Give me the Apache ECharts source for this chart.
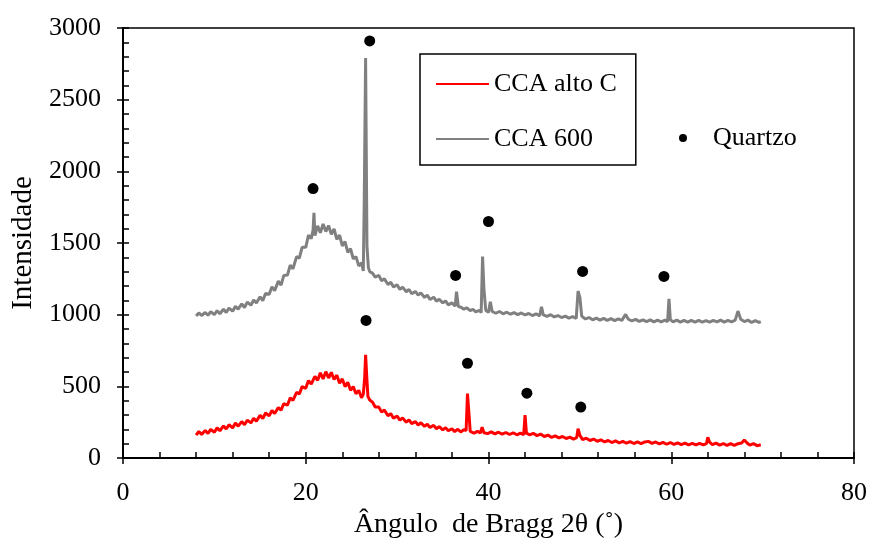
<!DOCTYPE html>
<html>
<head>
<meta charset="utf-8">
<script src="https://cdn.jsdelivr.net/npm/echarts@6/dist/echarts.min.js"></script>
<style>html,body{margin:0;padding:0;background:#fff}#c{width:870px;height:547px}</style>
</head>
<body>
<div id="c"></div>
<script>
var xTicks = [0, 20, 40, 60, 80];
var yTicks = [0, 500, 1000, 1500, 2000, 2500, 3000];
var seriesNames = ['CCA alto C', 'CCA 600', 'Quartzo'];

var cca600 = [[8.0,990],[8.3,1012],[8.6,994],[9.0,1015],[9.3,996],[9.6,1020],[10.0,1000],[10.3,1028],[10.6,1006],[11.0,1038],[11.3,1015],[11.6,1046],[12.0,1024],[12.3,1058],[12.6,1038],[13.0,1075],[13.3,1050],[13.6,1088],[14.0,1066],[14.3,1102],[14.6,1082],[15.0,1125],[15.3,1098],[15.6,1148],[16.0,1142],[16.3,1194],[16.6,1168],[17.0,1234],[17.3,1206],[17.6,1274],[18.0,1276],[18.3,1345],[18.6,1320],[19.0,1405],[19.3,1395],[19.6,1470],[20.0,1470],[20.3,1555],[20.6,1530],[20.8,1590],[20.9,1710],[21.0,1552],[21.3,1620],[21.6,1572],[21.9,1632],[22.2,1580],[22.5,1622],[22.8,1560],[23.1,1598],[23.4,1525],[23.7,1555],[24.0,1480],[24.3,1510],[24.6,1435],[24.9,1460],[25.2,1390],[25.5,1405],[25.8,1340],[26.1,1362],[26.3,1305],[26.4,1790],[26.55,2790],[26.7,1480],[26.85,1330],[27.0,1300],[27.3,1290],[27.6,1262],[28.0,1274],[28.3,1236],[28.6,1250],[29.0,1210],[29.3,1226],[29.6,1194],[30.0,1208],[30.3,1176],[30.6,1192],[31.0,1160],[31.3,1176],[31.6,1146],[32.0,1162],[32.3,1136],[32.6,1152],[33.0,1120],[33.3,1136],[33.6,1106],[34.0,1122],[34.3,1094],[34.6,1108],[35.0,1082],[35.3,1096],[35.6,1068],[36.0,1082],[36.35,1060],[36.5,1160],[36.7,1056],[37.0,1052],[37.3,1038],[37.6,1048],[38.0,1028],[38.3,1038],[38.6,1020],[39.0,1030],[39.2,1014],[39.35,1405],[39.5,1180],[39.7,1030],[40.0,1016],[40.2,1090],[40.4,1022],[40.8,1010],[41.2,1022],[41.6,1006],[42.0,1017],[42.4,1003],[42.8,1014],[43.2,1000],[43.6,1012],[44.0,998],[44.4,1008],[44.8,994],[45.2,1006],[45.6,992],[45.8,1055],[46.0,998],[46.4,988],[46.8,1000],[47.2,984],[47.6,994],[48.0,980],[48.4,990],[48.8,976],[49.2,986],[49.6,974],[49.8,1165],[50.0,1120],[50.2,990],[50.6,970],[51.0,980],[51.4,964],[51.8,976],[52.2,962],[52.6,974],[53.0,960],[53.4,972],[53.8,958],[54.2,970],[54.6,960],[55.0,1002],[55.3,968],[55.7,956],[56.1,967],[56.5,953],[56.9,964],[57.3,952],[57.7,964],[58.1,950],[58.5,962],[58.9,950],[59.3,962],[59.6,952],[59.75,1110],[59.9,965],[60.2,950],[60.6,962],[61.0,948],[61.4,960],[61.8,948],[62.2,960],[62.6,948],[63.0,960],[63.4,948],[63.8,959],[64.2,948],[64.6,960],[65.0,950],[65.4,962],[65.8,948],[66.2,960],[66.6,950],[67.0,962],[67.3,1025],[67.6,968],[68.0,952],[68.4,962],[68.8,946],[69.2,958],[69.6,946],[69.8,952]];

var ccaAltoC = [[8.0,160],[8.3,185],[8.6,165],[9.0,192],[9.3,172],[9.6,200],[10.0,180],[10.3,210],[10.6,190],[11.0,224],[11.3,202],[11.6,232],[12.0,210],[12.3,244],[12.6,222],[13.0,254],[13.3,232],[13.6,264],[14.0,245],[14.3,278],[14.6,256],[15.0,298],[15.3,275],[15.6,314],[16.0,294],[16.3,332],[16.6,310],[17.0,352],[17.3,334],[17.6,380],[18.0,368],[18.3,420],[18.6,402],[19.0,458],[19.3,446],[19.6,498],[20.0,486],[20.3,540],[20.6,516],[21.0,570],[21.3,542],[21.6,594],[21.9,552],[22.2,602],[22.5,558],[22.8,598],[23.1,548],[23.4,578],[23.7,522],[24.0,552],[24.3,498],[24.6,528],[24.9,472],[25.2,498],[25.5,448],[25.8,472],[26.1,420],[26.3,446],[26.45,560],[26.55,720],[26.7,540],[26.8,430],[27.0,405],[27.3,390],[27.6,356],[28.0,355],[28.3,320],[28.6,335],[29.0,295],[29.3,310],[29.6,278],[30.0,292],[30.3,264],[30.6,280],[31.0,250],[31.3,266],[31.6,240],[32.0,254],[32.3,230],[32.6,246],[33.0,221],[33.3,236],[33.6,213],[34.0,228],[34.3,204],[34.6,219],[35.0,196],[35.3,212],[35.6,190],[36.0,204],[36.3,184],[36.6,200],[37.0,182],[37.3,198],[37.55,190],[37.7,450],[37.85,320],[38.0,185],[38.4,174],[38.8,186],[39.1,174],[39.3,215],[39.5,176],[39.9,170],[40.3,182],[40.7,168],[41.1,180],[41.5,166],[41.9,178],[42.3,164],[42.7,176],[43.1,162],[43.5,174],[43.85,162],[44.0,300],[44.15,174],[44.5,162],[44.9,172],[45.3,156],[45.7,167],[46.1,150],[46.5,160],[46.9,144],[47.3,154],[47.7,140],[48.1,150],[48.5,136],[48.9,146],[49.3,132],[49.65,142],[49.8,205],[50.0,158],[50.3,128],[50.7,138],[51.1,122],[51.5,132],[51.9,117],[52.3,127],[52.7,112],[53.1,122],[53.5,108],[53.9,119],[54.3,106],[54.7,116],[55.1,103],[55.5,114],[55.9,101],[56.3,112],[56.7,101],[57.1,112],[57.5,116],[57.9,102],[58.3,112],[58.7,98],[59.1,109],[59.5,96],[59.9,108],[60.3,95],[60.7,106],[61.1,93],[61.5,104],[61.9,92],[62.3,102],[62.7,91],[63.1,102],[63.5,91],[63.85,100],[64.0,145],[64.2,110],[64.5,93],[64.9,104],[65.3,90],[65.7,101],[66.1,88],[66.5,100],[66.9,88],[67.3,100],[67.7,104],[68.0,125],[68.3,105],[68.6,90],[69.0,100],[69.4,86],[69.8,92]];

var quartzo = [[27.0,2910],[20.8,1880],[40.0,1650],[36.4,1274],[50.3,1302],[59.2,1267],[26.6,960],[37.7,661],[44.2,452],[50.1,355]];

var FONT = "'Liberation Serif','Times New Roman',serif";
var chart = echarts.init(document.getElementById('c'), null, {renderer: 'canvas'});
chart.setOption({
  animation: false,
  backgroundColor: '#fff',
  textStyle: {fontFamily: FONT, color: '#000'},
  grid: {left: 123, right: 15, top: 28, bottom: 89, show: true, borderColor: '#000', borderWidth: 1.5, containLabel: false},
  legend: [{
    data: [{name: seriesNames[0], icon: 'rect'}, {name: seriesNames[1], icon: 'rect'}],
    orient: 'vertical', left: 420, top: 54,
    padding: [17, 19, 13, 16], itemGap: 29, itemWidth: 53, itemHeight: 2,
    borderColor: '#000', borderWidth: 1.5, backgroundColor: '#fff',
    textStyle: {fontFamily: FONT, fontSize: 26, color: '#000'}
  }, {
    data: [seriesNames[2]],
    left: 679, top: 125, padding: 0,
    icon: 'circle', itemWidth: 8, itemHeight: 8,
    textStyle: {fontFamily: FONT, fontSize: 26, color: '#000', padding: [0, 0, 0, 21]}
  }],
  xAxis: [{
    type: 'value', min: 0, max: 80, interval: 20, position: 'bottom',
    name: 'Ângulo  de Bragg 2θ (˚)', nameLocation: 'middle', nameGap: 52,
    nameTextStyle: {fontFamily: FONT, fontSize: 28, color: '#000'},
    axisLine: {show: true, onZero: false, lineStyle: {color: '#000', width: 2}},
    axisTick: {show: true, inside: false, length: 6, lineStyle: {color: '#000', width: 1.5}},
    axisLabel: {show: true, margin: 22, fontFamily: FONT, fontSize: 26, color: '#000',
      formatter: function (v) { return xTicks.indexOf(v) >= 0 ? String(v) : ''; }},
    splitLine: {show: false}
  }, {
    type: 'value', min: 0, max: 80, interval: 4, position: 'bottom',
    axisLine: {show: false}, axisLabel: {show: false}, splitLine: {show: false},
    axisTick: {show: true, inside: true, length: 6, lineStyle: {color: '#000', width: 1.5}}
  }],
  yAxis: [{
    type: 'value', min: 0, max: 3000, interval: 500, position: 'left',
    name: 'Intensidade', nameLocation: 'middle', nameGap: 80,
    nameTextStyle: {fontFamily: FONT, fontSize: 29, color: '#000'},
    axisLine: {show: true, onZero: false, lineStyle: {color: '#000', width: 2}},
    axisTick: {show: true, inside: false, length: 6, lineStyle: {color: '#000', width: 1.5}},
    axisLabel: {show: true, margin: 22, fontFamily: FONT, fontSize: 26, color: '#000',
      formatter: function (v) { return yTicks.indexOf(v) >= 0 ? String(v) : ''; }},
    splitLine: {show: false}
  }, {
    type: 'value', min: 0, max: 3000, interval: 100, position: 'left',
    axisLine: {show: false}, axisLabel: {show: false}, splitLine: {show: false},
    axisTick: {show: true, inside: true, length: 6, lineStyle: {color: '#000', width: 1.5}}
  }],
  series: [{
    name: seriesNames[0], type: 'line', xAxisIndex: 0, yAxisIndex: 0,
    data: ccaAltoC, showSymbol: false, symbol: 'none',
    lineStyle: {color: '#FF0000', width: 3}, itemStyle: {color: '#FF0000'}, z: 3
  }, {
    name: seriesNames[1], type: 'line', xAxisIndex: 0, yAxisIndex: 0,
    data: cca600, showSymbol: false, symbol: 'none',
    lineStyle: {color: '#808080', width: 3}, itemStyle: {color: '#808080'}, z: 2
  }, {
    name: seriesNames[2], type: 'scatter', xAxisIndex: 0, yAxisIndex: 0,
    data: quartzo, symbol: 'circle', symbolSize: 11,
    itemStyle: {color: '#000', opacity: 1}, z: 4
  }]
});
</script>
</body>
</html>
